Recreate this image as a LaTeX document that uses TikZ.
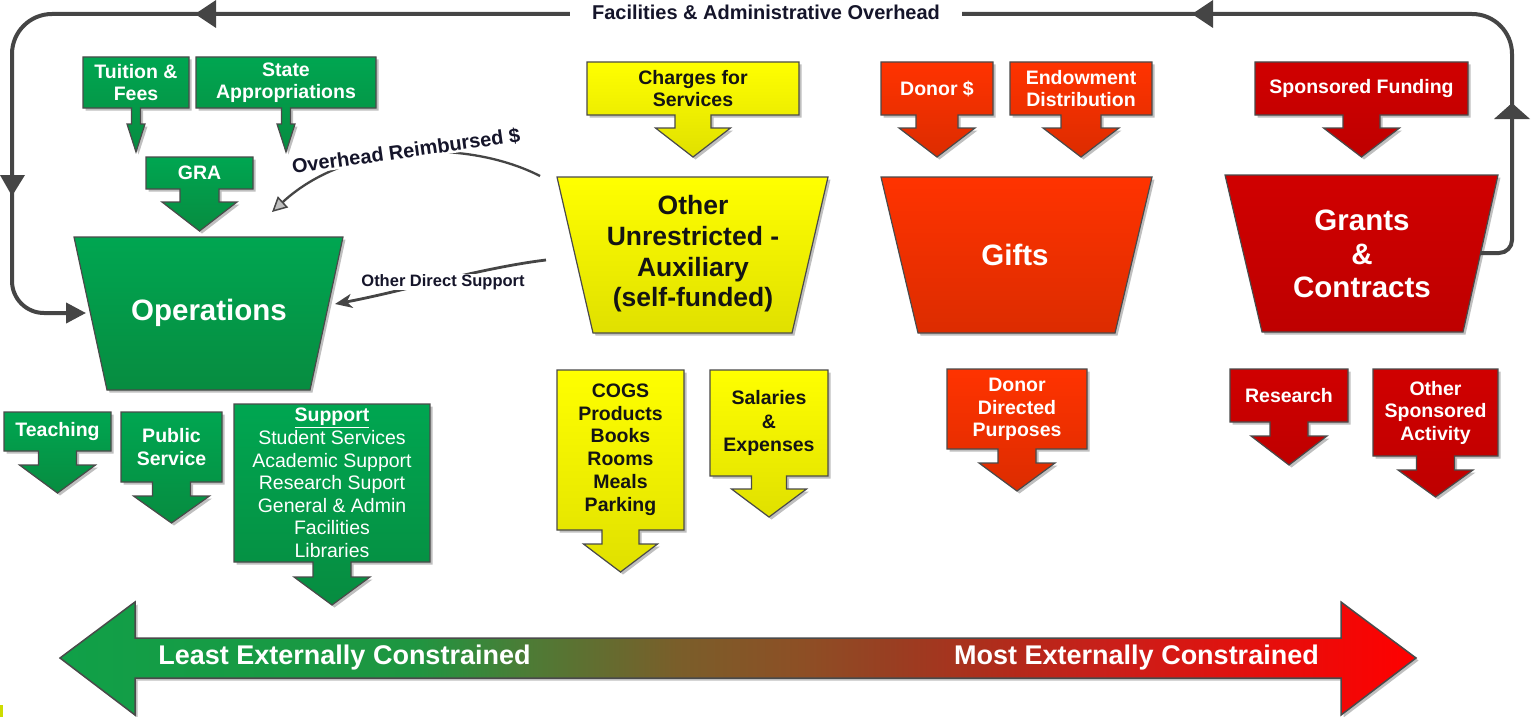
\documentclass[tikz,border=0pt]{standalone}
\usepackage{fontspec}
\setmainfont{Liberation Sans}
\usetikzlibrary{arrows.meta,shadows}
\definecolor{gTop}{HTML}{00A651}
\definecolor{gBot}{HTML}{078C40}
\definecolor{yTop}{HTML}{FFFF00}
\definecolor{yBot}{HTML}{E0E000}
\definecolor{oTop}{HTML}{FF3300}
\definecolor{oBot}{HTML}{DC2C00}
\definecolor{rTop}{HTML}{D00000}
\definecolor{rBot}{HTML}{BE0000}
\definecolor{edge}{HTML}{4A4A4A}
\definecolor{conn}{HTML}{454545}
\definecolor{ink}{HTML}{15152A}
\definecolor{tinymark}{HTML}{CDDC00}
\definecolor{c0}{RGB}{16,160,72}
\definecolor{c1}{RGB}{30,150,65}
\definecolor{c2}{RGB}{79,122,53}
\definecolor{c3}{RGB}{122,94,42}
\definecolor{c4}{RGB}{141,79,37}
\definecolor{c5}{RGB}{152,63,34}
\definecolor{c6}{RGB}{181,40,26}
\definecolor{c7}{RGB}{200,32,26}
\definecolor{c8}{RGB}{255,0,0}
\pgfdeclarehorizontalshading{constrain}{100bp}{color(0bp)=(c0); color(25bp)=(c0); color(38bp)=(c1); color(42.5bp)=(c2); color(47.75bp)=(c3); color(52.35bp)=(c4); color(55.5bp)=(c5); color(60.5bp)=(c6); color(63.35bp)=(c7); color(75bp)=(c8); color(100bp)=(c8)}
\newcommand{\myfs}[2]{\fontsize{#1pt}{#2pt}\selectfont}
% style, x1, y1, x2, y2, shaft half, head half, head top, tip
\newcommand{\dcallout}[9]{%
  \path[#1] (#2,#3) -- (#4,#3) -- (#4,#5) -- ({(#2+#4)/2+#6},#5) -- ({(#2+#4)/2+#6},#8) -- ({(#2+#4)/2+#7},#8) -- ({(#2+#4)/2},#9) -- ({(#2+#4)/2-#7},#8) -- ({(#2+#4)/2-#6},#8) -- ({(#2+#4)/2-#6},#5) -- (#2,#5) -- cycle;}
\tikzset{
  sh/.style={drop shadow={shadow xshift=2.5pt,shadow yshift=-2.5pt,opacity=0.25,fill=black}},
  gbox/.style={draw=edge,line width=1.2pt,top color=gTop,bottom color=gBot,sh},
  ybox/.style={draw=edge,line width=1.2pt,top color=yTop,bottom color=yBot,sh},
  obox/.style={draw=edge,line width=1.2pt,top color=oTop,bottom color=oBot,sh},
  rbox/.style={draw=edge,line width=1.2pt,top color=rTop,bottom color=rBot,sh},
  lbl/.style={font={\bfseries\myfs{19.5}{22.5}},align=center,text=white,inner sep=0pt},
  lblk/.style={lbl,text=black!92},
  biglbl/.style={font={\bfseries\myfs{29.5}{33.5}},align=center,text=white,inner sep=0pt},
  loopline/.style={draw=conn,line width=4pt},
  ovh/.style={draw=conn,line width=2.3pt,-{Triangle[length=15pt,width=15pt,fill=black!25,line width=1.5pt]}},
  odir/.style={draw=conn,line width=2.8pt,-{Stealth[length=17pt,width=14pt,inset=5pt]}},
  connlbl/.style={font={\bfseries\myfs{20}{22}},text=ink,fill=white,inner sep=0.5pt},
}
\begin{document}
\begin{tikzpicture}[x=1pt,y=-1pt]
\useasboundingbox (0,0) rectangle (1531,717);
\fill[white] (0,0) rectangle (1531,717);
\fill[tinymark] (0,705) rectangle (3,717);

% ---------- big trapezoids ----------
\path[gbox] (74,237) -- (343,237) -- (310,390) -- (107,390) -- cycle;
\path[ybox] (557,177) -- (828,177) -- (792,333) -- (593,333) -- cycle;
\path[obox] (881,177) -- (1152,177) -- (1115,333) -- (918,333) -- cycle;
\path[rbox] (1225,175) -- (1498,175) -- (1463,332) -- (1262,332) -- cycle;

\node[biglbl] (ops) at (209,313) {Operations};
\node[biglbl,text=black!92,font={\bfseries\myfs{26.5}{30.7}}] (aux) at (693,254) {Other\\Unrestricted -\\Auxiliary\\(self-funded)};
\node[biglbl] (gifts) at (1015,255) {Gifts};
\node[biglbl] (grants) at (1362,254) {Grants\\\&\\Contracts};

% ---------- callout boxes ----------
\dcallout{gbox}{83}{57}{189}{108}{4.5}{9}{124}{152}
\dcallout{gbox}{196}{57}{376}{108}{4.5}{9}{124}{152}
\dcallout{gbox}{146}{157}{253}{189}{19.5}{37.5}{202}{231}
\dcallout{gbox}{4}{412}{111}{451}{19}{38}{465}{493}
\dcallout{gbox}{121}{412}{222}{482}{19}{38}{496}{523}
\dcallout{gbox}{234}{404}{430}{562}{19}{38}{577}{605}
\dcallout{ybox}{587}{62}{799}{115}{18}{37.5}{128}{157}
\dcallout{ybox}{557}{370}{684}{530}{18.5}{37}{544}{572}
\dcallout{ybox}{710}{370}{828}{476}{17.5}{37.5}{489}{517}
\dcallout{obox}{881}{62}{993}{115}{21}{38}{128}{157}
\dcallout{obox}{1010}{62}{1152}{115}{20}{38}{128}{157}
\dcallout{obox}{947}{369}{1087}{449}{19}{38}{463}{491}
\dcallout{rbox}{1255}{62}{1468}{115}{18.5}{38}{128}{157}
\dcallout{rbox}{1230}{369}{1348}{422}{19}{38}{436}{465}
\dcallout{rbox}{1373}{369}{1498}{456}{19}{37.5}{470}{497}

\node[lbl] (tuition) at (136,82.5) {Tuition \&\\Fees};
\node[lbl] (state) at (286,82.5) {State\\Appropriations};
\node[lbl] (gra) at (199.5,173) {GRA};
\node[lbl] (teach) at (57.5,431) {Teaching};
\node[lbl] (public) at (171.5,447) {Public\\Service};
\node[lbl,font={\myfs{19.5}{22.6}}] (support) at (332,483) {\textbf{\underline{Support}}\\Student Services\\Academic Support\\Research Suport\\General \& Admin\\Facilities\\Libraries};
\node[lblk] (charges) at (693,88.5) {Charges for\\Services};
\node[lblk,font={\bfseries\myfs{19.5}{22.8}}] (cogs) at (620.5,449.5) {COGS\\Products\\Books\\Rooms\\Meals\\Parking};
\node[lblk,font={\bfseries\myfs{19.5}{23.5}}] (salaries) at (769,423) {Salaries\\\&\\Expenses};
\node[lbl] (donor) at (937,88.5) {Donor \$};
\node[lbl] (endow) at (1081,88.5) {Endowment\\Distribution};
\node[lbl] (ddp) at (1017,409.5) {Donor\\Directed\\Purposes};
\node[lbl] (spons) at (1361.5,88.5) {Sponsored Funding};
\node[lbl] (research) at (1289,395.5) {Research};
\node[lbl] (osa) at (1435.5,412.5) {Other\\Sponsored\\Activity};

% ---------- bottom constraint arrow ----------
\path[shade,shading=constrain,draw=edge,line width=1.5pt,sh]
  (60,658) -- (135,602) -- (135,638) -- (1341,638) -- (1341,602) -- (1416,658)
  -- (1341,715) -- (1341,678) -- (135,678) -- (135,715) -- cycle;
\node[font={\bfseries\myfs{27}{30}},text=white] (least) at (344.5,658) {Least Externally Constrained};
\node[font={\bfseries\myfs{27}{30}},text=white] (most) at (1136.5,658) {Most Externally Constrained};

% ---------- overhead loop ----------
\coordinate (gcR) at (1480,253);
\coordinate (opsL) at (86,313);
\draw[loopline,-{Triangle[length=20pt,width=20pt]}] (gcR) -- (1499,253)
  arc[start angle=90,end angle=0,radius=13] -- (1512,54)
  arc[start angle=0,end angle=-90,radius=40] -- (52,14)
  arc[start angle=270,end angle=180,radius=40] -- (12,281)
  arc[start angle=180,end angle=90,radius=32] -- (opsL);
\fill[conn] (195,14) -- (216,0) -- (216,28) -- cycle;
\fill[conn] (1192,14) -- (1213,0) -- (1213,28) -- cycle;
\fill[conn] (12,196) -- (0,175) -- (25,175) -- cycle;
\fill[conn] (1512,103) -- (1494,119) -- (1530,119) -- cycle;
\node[connlbl,inner xsep=22pt] (fa) at (766,12) {Facilities \& Administrative Overhead};

% ---------- internal flows ----------
\coordinate (ohS) at (540,176);
\coordinate (ohE) at (272,212);
\draw[ovh] (ohS) .. controls (470,140) and (350,140) .. (ohE);
\node[connlbl,rotate=8] (ohlbl) at (406,151) {Overhead Reimbursed \$};
\coordinate (odS) at (546,260);
\coordinate (odE) at (335,304);
\draw[odir] (odS) .. controls (480,268) and (400,292) .. (odE);
\node[connlbl,font={\bfseries\myfs{16.5}{20}}] (odlbl) at (443,282) {Other Direct Support};
\end{tikzpicture}
\end{document}
